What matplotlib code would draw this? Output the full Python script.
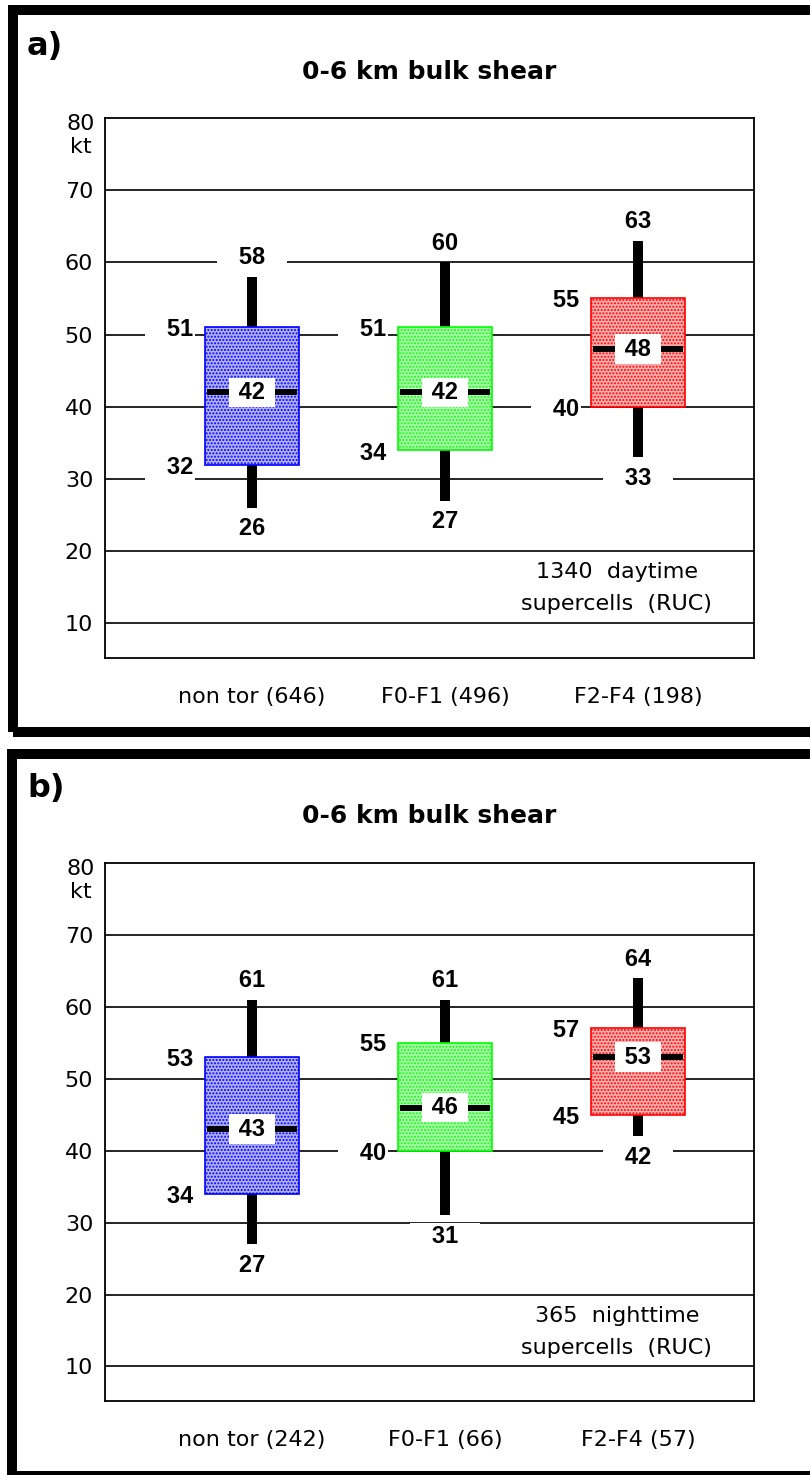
import numpy as np
from matplotlib import pyplot as plt
from matplotlib import font_manager
from matplotlib.colors import to_rgb
from matplotlib.patches import Rectangle

#############################################################################

# Data
cats_a = ['non tor (646)', 'F0-F1 (496)', 'F2-F4 (198)']
lo_a = [26, 27, 33]
q1_a = [32, 34, 40]
med_a = [42, 42, 48]
q3_a = [51, 51, 55]
hi_a = [58, 60, 63]

cats_b = ['non tor (242)', 'F0-F1 (66)', 'F2-F4 (57)']
lo_b = [27, 31, 42]
q1_b = [34, 40, 45]
med_b = [43, 46, 53]
q3_b = [53, 55, 57]
hi_b = [61, 61, 64]

box_colors = ['#0000ff', '#00ff00', '#ff0000']
yticks = [10, 20, 30, 40, 50, 60, 70]

title = '0-6 km bulk shear'
note_a = '1340  daytime\nsupercells  (RUC)'
note_b = '365  nighttime\nsupercells  (RUC)'

#############################################################################

W, H = 810, 1475
plt.rcParams['hatch.linewidth'] = 1.0
plt.rcParams['font.family'] = 'DejaVu Sans'

names = {f.name for f in font_manager.fontManager.ttflist}
if 'Liberation Sans Narrow' in names:
    num_font, num_size = 'Liberation Sans Narrow', 20
else:
    num_font, num_size = 'Liberation Sans', 17

fig = plt.figure(figsize=(W / 100, H / 100), dpi=100)


def fx(px):
    return px / W


def fy(py):
    return 1 - py / H


def tint(c, k=0.3):
    # light version of a colour, used under the dot hatch
    return tuple(1 - k * (1 - v) for v in to_rgb(c))


# thick frames round each panel (open to the right)
for x0, y0, y1 in [(13, 10, 732), (12, 754, 1476)]:
    fig.patches.append(Rectangle((fx(x0), fy(y1)), fx(900), fy(y0) - fy(y1),
                                 transform=fig.transFigure, fill=False,
                                 edgecolor='black', linewidth=7.2, zorder=0))

half = 0.244


def label(ax, txt, x, y, dx, dy, ha='center', pad=0.08):
    ax.annotate(txt, xy=(x, y), xytext=(dx, dy), textcoords='offset pixels',
                ha=ha, va='center', fontsize=num_size, fontweight='bold',
                family=num_font, zorder=6,
                bbox=dict(boxstyle='square,pad=%g' % pad, fc='white', ec='none'))


def panel(top, bottom, tag, tag_y, title_y, cats, lo, q1, med, q3, hi, note):
    ax = fig.add_axes([fx(105), fy(bottom), fx(649), fy(top) - fy(bottom)])
    ax.set_xlim(-0.762, 2.601)
    ax.set_ylim(5.2, 80)
    for v in yticks:
        ax.axhline(v, color='black', lw=1.2, zorder=1)
    for s in ax.spines.values():
        s.set_linewidth(1.3)

    for i in range(len(cats)):
        ax.plot([i, i], [lo[i], hi[i]], color='black', lw=7.2,
                solid_capstyle='butt', zorder=2)
        ax.add_patch(Rectangle((i - half, q1[i]), 2 * half, q3[i] - q1[i],
                               facecolor=tint(box_colors[i]),
                               edgecolor=box_colors[i],
                               hatch='.....', lw=1.2, zorder=3))
        ax.plot([i - half + 0.01, i + half - 0.01], [med[i], med[i]],
                color='black', lw=4.3, solid_capstyle='butt', zorder=4)
        label(ax, ' %d ' % med[i], i, med[i], 0, 0, pad=0.14)
        label(ax, '   %d   ' % hi[i], i, hi[i], 0, 19)
        label(ax, '   %d   ' % lo[i], i, lo[i], 0, -21)
        label(ax, '   %d' % q3[i], i - half, q3[i], -12, -2, ha='right')
        label(ax, '   %d' % q1[i], i - half, q1[i], -12, -3, ha='right')

    ax.set_yticks(yticks)
    ax.set_yticklabels([str(v) for v in yticks], fontsize=16)
    ax.tick_params(axis='y', length=0, pad=8.5)
    ax.set_xticks(range(len(cats)))
    ax.set_xticklabels(cats, fontsize=16)
    ax.tick_params(axis='x', length=0, pad=21)

    ax.annotate('80\nkt', xy=(0, 80), xycoords=('axes fraction', 'data'),
                xytext=(-10, 4), textcoords='offset pixels', ha='right',
                va='top', multialignment='center', fontsize=16,
                linespacing=1.2)
    ax.text(1.89, 14.85, note, ha='center', va='center', fontsize=16,
            linespacing=1.75, zorder=5)

    fig.text(fx(27), fy(tag_y), tag, fontsize=23, fontweight='bold',
             ha='left', va='center')
    fig.text(fx(429), fy(title_y), title, fontsize=18, fontweight='bold',
             ha='center', va='center')
    return ax


panel(118, 658, 'a)', 47, 72, cats_a, lo_a, q1_a, med_a, q3_a, hi_a, note_a)
panel(863, 1401, 'b)', 788, 816, cats_b, lo_b, q1_b, med_b, q3_b, hi_b, note_b)

plt.savefig('out.png', dpi=100)
